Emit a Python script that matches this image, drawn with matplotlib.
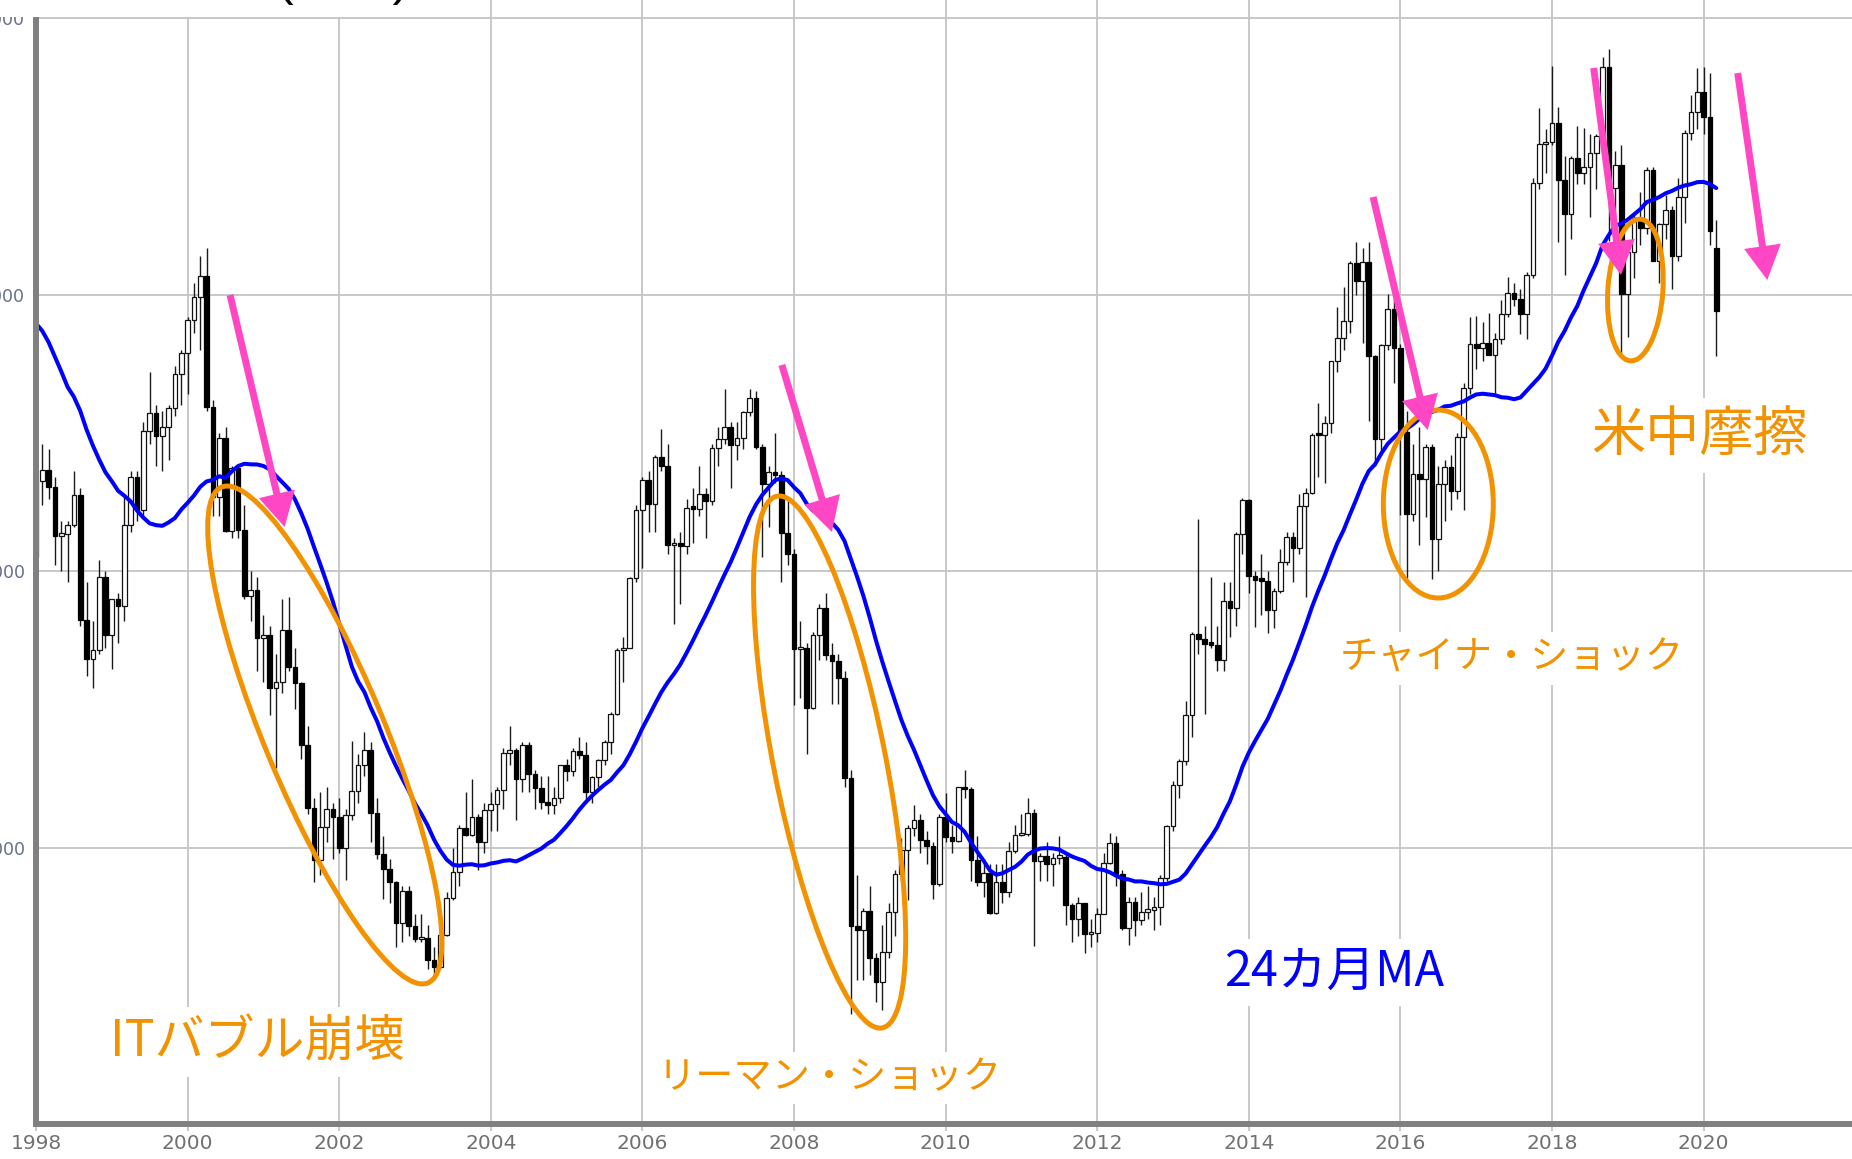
import matplotlib
matplotlib.use('Agg')
import matplotlib.pyplot as plt
import numpy as np
import pandas as pd
from matplotlib.patches import Ellipse, FancyArrow, Rectangle
from matplotlib.transforms import IdentityTransform

# ---------------- data: Nikkei 225 monthly OHLC (1998-01 .. 2020-03) ----------------
start_month = "1998-01"
end_month = "2020-03"

opens = [
    15259, 16628, 16832, 16527, 15641, 15671, 15830, 16379, 14108, 13406, 13565, 14884,
    13842, 14499, 14368, 15837, 16702, 16112, 17530, 17862, 17437, 17605, 17942, 18558,
    18934, 19540, 19960, 20337, 17974, 16332, 17411, 15727, 16861, 15747, 14540, 14649,
    13786, 13844, 12884, 12999, 13934, 13262, 12969, 11861, 10714, 9775, 10367, 10697,
    10543, 9998, 10588, 11025, 11493, 11764, 10622, 9878, 9620, 9383, 8640, 9216,
    8579, 8340, 8363, 7973, 7831, 8425, 9083, 9563, 10344, 10219, 10560, 10101,
    10677, 10784, 11042, 11715, 11762, 11236, 11859, 11326, 11082, 10824, 10771, 10899,
    11489, 11388, 11741, 11669, 11009, 11277, 11584, 11900, 12414, 13574, 13607, 14872,
    16111, 16650, 16205, 17060, 16906, 15467, 15505, 15457, 16141, 16128, 16399, 16274,
    17226, 17383, 17604, 17288, 17400, 17876, 18138, 17249, 16569, 16786, 16738, 15681,
    15308, 13592, 13603, 12526, 13850, 14339, 13481, 13377, 13073, 11260, 8577, 8512,
    8860, 7994, 7568, 8110, 8828, 9523, 9958, 10357, 10493, 10133, 10035, 9346,
    10546, 10198, 10126, 11090, 11057, 9769, 9383, 9537, 8824, 9369, 9202, 9937,
    10229, 10238, 10624, 9755, 9850, 9694, 9816, 9833, 8955, 8700, 8988, 8435,
    8455, 8803, 9723, 10084, 9521, 8543, 9007, 8695, 8840, 8870, 8928, 9446,
    10395, 11139, 11559, 12398, 13861, 13775, 13677, 13668, 13389, 14456, 14328, 15662,
    16291, 14915, 14841, 14828, 14304, 14632, 15162, 15621, 15425, 16174, 16414, 17460,
    17451, 17674, 18798, 19207, 19520, 20563, 20236, 20585, 18890, 17388, 19083, 19747,
    19034, 17518, 16027, 16759, 16666, 17235, 15576, 16569, 16887, 16450, 17425, 18308,
    19114, 19041, 19119, 18909, 19197, 19651, 20033, 19925, 19646, 20356, 22012, 22725,
    22765, 23098, 22068, 21454, 22468, 22202, 22305, 22554, 22865, 24120, 21920, 22351,
    20015, 20773, 21385, 21206, 22259, 20601, 21276, 21522, 20704, 21756, 22927, 23294,
    23657, 23205, 20849,
]
highs = [
    16800, 17300, 17200, 16700, 15900, 15900, 16800, 16500, 14800, 14100, 15200, 15000,
    14500, 14600, 16400, 16800, 16800, 17700, 18600, 18000, 17900, 18000, 18700, 19000,
    19600, 20200, 20700, 20833, 18100, 17500, 17600, 16900, 16900, 16200, 15000, 14900,
    14200, 14000, 13500, 14500, 14529, 13600, 13000, 12200, 10900, 11000, 11100, 10800,
    10900, 10700, 11919, 11700, 12081, 11900, 10900, 10200, 9800, 9400, 9300, 9300,
    8800, 8800, 8600, 8200, 8500, 9200, 10000, 10400, 11000, 11238, 10600, 10800,
    11000, 11100, 11800, 12195, 11800, 11900, 11900, 11400, 11300, 11300, 11100, 11500,
    11600, 11800, 12000, 11900, 11300, 11600, 11950, 12450, 13600, 13800, 14900, 16200,
    16700, 16800, 17100, 17563, 17300, 15600, 15700, 16300, 16500, 16900, 16500, 17300,
    17600, 18300, 17700, 17700, 17900, 18300, 18262, 17300, 16900, 17500, 16800, 16300,
    15400, 14100, 13700, 13900, 14400, 14600, 13700, 13500, 13200, 11400, 9500, 8900,
    9300, 8100, 8600, 9000, 9600, 10170, 10400, 10767, 10600, 10300, 10100, 10600,
    10982, 10400, 11100, 11408, 11100, 10200, 9800, 9700, 9700, 9700, 10100, 10400,
    10600, 10891, 10700, 9900, 10100, 9900, 10200, 9900, 9000, 9100, 9000, 8700,
    8900, 9900, 10255, 10200, 9600, 9100, 9100, 9200, 9300, 9100, 9500, 10400,
    11200, 11600, 12650, 13900, 15942, 14000, 14900, 14000, 14800, 14800, 15700, 16320,
    16300, 15000, 15300, 15000, 14700, 15400, 15700, 15700, 16400, 16500, 17500, 18030,
    17800, 18800, 19778, 20133, 20600, 20953, 20850, 20947, 18900, 19100, 20012, 20000,
    19100, 17900, 17291, 17613, 17300, 17300, 16900, 17000, 17100, 17500, 18400, 19592,
    19615, 19500, 19668, 19300, 19900, 20318, 20200, 20100, 20400, 22100, 23382, 23000,
    24129, 23400, 22500, 22500, 23050, 23011, 22900, 22900, 24300, 24448, 22600, 22700,
    20900, 21500, 21860, 22300, 22300, 21300, 21800, 21600, 22100, 22974, 23600, 24092,
    24116, 24000, 21344,
]
lows = [
    14488, 16200, 16300, 15100, 15000, 14800, 15800, 14000, 13100, 12879, 13500, 13600,
    13232, 13700, 14100, 15700, 15900, 16000, 17300, 16900, 16800, 17000, 17800, 18000,
    18200, 19300, 19000, 17900, 16000, 16000, 15700, 15600, 15600, 14500, 14100, 13200,
    13000, 12400, 11433, 12800, 13200, 12500, 11600, 10600, 9382, 9500, 10100, 9800,
    9900, 9420, 10500, 10800, 11300, 10100, 9800, 9075, 9000, 8200, 8300, 8400,
    8300, 8300, 7800, 7603, 7800, 8400, 9050, 9300, 10200, 10200, 9600, 9900,
    10300, 10300, 10700, 11500, 10500, 11000, 11000, 10700, 10700, 10600, 10600, 10800,
    11200, 11300, 11600, 10800, 10800, 11100, 11500, 11700, 12400, 13000, 13600, 14800,
    15059, 15700, 15700, 16800, 15300, 14045, 14400, 15300, 15500, 16000, 15600, 16200,
    16900, 17300, 16500, 17000, 17200, 17800, 17200, 15262, 15800, 16600, 14800, 15100,
    12573, 12700, 11691, 12500, 13400, 13400, 12600, 12600, 11100, 6995, 7600, 7600,
    7700, 7200, 7054, 8000, 8400, 9400, 9050, 10200, 9900, 9700, 9076, 9300,
    10100, 9900, 10100, 10900, 9400, 9300, 9100, 8800, 8800, 9000, 9100, 9900,
    10200, 10200, 8227, 9400, 9400, 9300, 9700, 8600, 8300, 8400, 8100, 8200,
    8300, 8800, 9700, 9300, 8500, 8238, 8400, 8600, 8700, 8500, 8600, 9400,
    10300, 10900, 11500, 12000, 13500, 12415, 13600, 13200, 13200, 13800, 14000, 15300,
    14600, 13995, 14200, 13885, 13964, 14600, 15100, 14800, 15300, 14529, 16400, 16700,
    16590, 17500, 18600, 19000, 19300, 20000, 19115, 17714, 16901, 17100, 19000, 18400,
    16017, 14865, 15900, 15471, 15975, 14864, 15000, 15900, 16100, 16300, 16111, 18200,
    18650, 18800, 18900, 18224, 19100, 19600, 19800, 19280, 19200, 20300, 21900, 22200,
    22700, 20950, 20347, 21000, 22000, 22000, 21400, 21900, 22600, 20971, 21000, 18949,
    19241, 20300, 20900, 21100, 20600, 20200, 21000, 20100, 20600, 21300, 22800, 23000,
    22900, 20900, 18891,
]
closes = [
    16628, 16832, 16527, 15641, 15671, 15830, 16379, 14108, 13406, 13565, 14884, 13842,
    14499, 14368, 15837, 16702, 16112, 17530, 17862, 17437, 17605, 17942, 18558, 18934,
    19540, 19960, 20337, 17974, 16332, 17411, 15727, 16861, 15747, 14540, 14649, 13786,
    13844, 12884, 12999, 13934, 13262, 12969, 11861, 10714, 9775, 10367, 10697, 10543,
    9998, 10588, 11025, 11493, 11764, 10622, 9878, 9620, 9383, 8640, 9216, 8579,
    8340, 8363, 7973, 7831, 8425, 9083, 9563, 10344, 10219, 10560, 10101, 10677,
    10784, 11042, 11715, 11762, 11236, 11859, 11326, 11082, 10824, 10771, 10899, 11489,
    11388, 11741, 11669, 11009, 11277, 11584, 11900, 12414, 13574, 13607, 14872, 16111,
    16650, 16205, 17060, 16906, 15467, 15505, 15457, 16141, 16128, 16399, 16274, 17226,
    17383, 17604, 17288, 17400, 17876, 18138, 17249, 16569, 16786, 16738, 15681, 15308,
    13592, 13603, 12526, 13850, 14339, 13481, 13377, 13073, 11260, 8577, 8512, 8860,
    7994, 7568, 8110, 8828, 9523, 9958, 10357, 10493, 10133, 10035, 9346, 10546,
    10198, 10126, 11090, 11057, 9769, 9383, 9537, 8824, 9369, 9202, 9937, 10229,
    10238, 10624, 9755, 9850, 9694, 9816, 9833, 8955, 8700, 8988, 8435, 8455,
    8803, 9723, 10084, 9521, 8543, 9007, 8695, 8840, 8870, 8928, 9446, 10395,
    11139, 11559, 12398, 13861, 13775, 13677, 13668, 13389, 14456, 14328, 15662, 16291,
    14915, 14841, 14828, 14304, 14632, 15162, 15621, 15425, 16174, 16414, 17460, 17451,
    17674, 18798, 19207, 19520, 20563, 20236, 20585, 18890, 17388, 19083, 19747, 19034,
    17518, 16027, 16759, 16666, 17235, 15576, 16569, 16887, 16450, 17425, 18308, 19114,
    19041, 19119, 18909, 19197, 19651, 20033, 19925, 19646, 20356, 22012, 22725, 22765,
    23098, 22068, 21454, 22468, 22202, 22305, 22554, 22865, 24120, 21920, 22351, 20015,
    20773, 21385, 21206, 22259, 20601, 21276, 21522, 20704, 21756, 22927, 23294, 23657,
    23205, 21143, 19698,
]
# closes before the plotted range, used to warm up the 24-month moving average
prior_closes_1996_1997 = [
    20813, 20125, 21407, 22041, 21956, 22531, 20693, 20167, 21556, 20467, 21020, 19361,
    18330, 18557, 18003, 19151, 20069, 20605, 20331, 18229, 17888, 16459, 16636, 15259,
]
ma_window = 24

x_ticks = list(range(1998, 2021, 2))
y_ticks = [10000, 15000, 20000, 25000]

title_text = "(月足)"
ma_label = "24カ月MA"
# annotation labels: (text, year, price, fontsize, color)
labels = [
    ("ITバブル崩壊", 2000.92, 6480, 36, "orange"),
    ("リーマン・ショック", 2008.47, 5830, 27.5, "orange"),
    (ma_label, 2015.12, 7740, 35, "blue"),
    ("チャイナ・ショック", 2017.47, 13420, 27.5, "orange"),
    ("米中摩擦", 2019.95, 17450, 39, "orange"),
]
# highlight ellipses: (year, price, width_px, height_px, angle)
ellipses = [
    (2001.81, 12035, 537, 120, -67.4),
    (2008.47, 11546, 542, 112, -78.8),
    (2016.50, 16212, 110, 188, 0),
    (2019.10, 20082, 55, 142, -4),
]
# arrows: (start year, start price, tip year, tip price)
arrows = [
    (2000.56, 19992, 2001.28, 15796),
    (2007.84, 18726, 2008.50, 15706),
    (2015.64, 21764, 2016.36, 17550),
    (2018.55, 24097, 2018.91, 20353),
    (2020.45, 24006, 2020.84, 20263),
]

# ---------------- figure ----------------
W, H, DPI = 1852, 1159, 100
plt.rcParams['font.family'] = ['DejaVu Sans', 'Noto Sans CJK JP']
fig = plt.figure(figsize=(W / DPI, H / DPI), dpi=DPI)
fig.patch.set_facecolor('white')
ax = fig.add_axes([36 / W, 35 / H, 1 - 36 / W, 1124 / H])

ORANGE = '#F39200'
BLUE = '#0000FF'
PINK = '#FF46C4'
colors = {"orange": ORANGE, "blue": BLUE}

px_per_year = 75.8
price_per_px = 18.084
ax.set_xlim(1998, 1998 + 1816 / px_per_year)
ax.set_ylim(5000, 5000 + 1124 * price_per_px)

months = pd.period_range(start_month, end_month, freq='M')
x = np.array([p.year + (p.month - 1) / 12 for p in months])
o = np.array(opens, float)
h = np.array(highs, float)
l = np.array(lows, float)
c = np.array(closes, float)

# wicks
ax.vlines(x, l, h, color='#1a1a1a', lw=1.0, zorder=3)
# bodies
up = c >= o
bottoms = np.minimum(o, c)
heights = np.maximum(np.abs(c - o), 40)
ax.bar(x[up], heights[up], bottom=bottoms[up], width=0.062, color='white',
       edgecolor='#111111', linewidth=0.9, zorder=4)
ax.bar(x[~up], heights[~up], bottom=bottoms[~up], width=0.062, color='black',
       edgecolor='black', linewidth=0.9, zorder=4)

# 24-month moving average
all_closes = pd.Series(prior_closes_1996_1997 + closes, dtype=float)
ma = all_closes.rolling(ma_window).mean().to_numpy()[len(prior_closes_1996_1997):]
ax.plot(x, ma, color=BLUE, lw=2.9, zorder=5, solid_capstyle='round')

# axes styling
ax.set_xticks(x_ticks)
ax.set_xticklabels([str(t) for t in x_ticks])
ax.set_yticks(y_ticks)
ax.set_yticklabels([str(t) for t in y_ticks])
ax.grid(True, color='#c4c4c4', lw=1.3)
ax.set_axisbelow(True)
ax.tick_params(axis='x', length=5, width=1.3, color='#c4c4c4', labelcolor='#707070',
               labelsize=14.5, pad=2)
ax.tick_params(axis='y', length=0, pad=8, labelsize=12.5, labelcolor='#687088')
for s in ('top', 'right'):
    ax.spines[s].set_visible(False)
for s in ('left', 'bottom'):
    ax.spines[s].set_color('#808080')
    ax.spines[s].set_linewidth(4.3)
    ax.spines[s].set_zorder(6)

# annotation labels with white background
for txt, yr, pr, fs, col in labels:
    ax.text(yr, pr, txt, fontsize=fs, color=colors[col], ha='center', va='center',
            family=['Noto Sans CJK JP'], zorder=7,
            bbox=dict(boxstyle='square,pad=0.18', fc='white', ec='none'))

# ellipses (sizes in pixels, centred on data positions)
for yr, pr, w, hh, ang in ellipses:
    cx, cy = ax.transData.transform((yr, pr))
    e = Ellipse((cx, cy), w, hh, angle=ang, fill=False, ec=ORANGE, lw=3.6,
                transform=IdentityTransform(), zorder=8, clip_on=False)
    ax.add_patch(e)

# arrows
for y0, p0, y1, p1 in arrows:
    sx, sy = ax.transData.transform((y0, p0))
    tx, ty = ax.transData.transform((y1, p1))
    a = FancyArrow(sx, sy, tx - sx, ty - sy, width=7, head_width=37, head_length=34,
                   length_includes_head=True, color=PINK, lw=0,
                   transform=IdentityTransform(), zorder=9, clip_on=False)
    ax.add_patch(a)

# title strip at the top (mostly cut off by the picture's edge)
fig.add_artist(Rectangle((0, (H - 17) / H), 480 / W, 17 / H, transform=fig.transFigure,
                         fc='white', ec='none', zorder=10))
fig.text(410 / W, (H + 5) / H, title_text, ha='right', va='baseline', fontsize=36,
         family=['Liberation Sans', 'Noto Sans CJK JP'], color='black', zorder=11)

fig.savefig('out.png', dpi=DPI, facecolor='white')
